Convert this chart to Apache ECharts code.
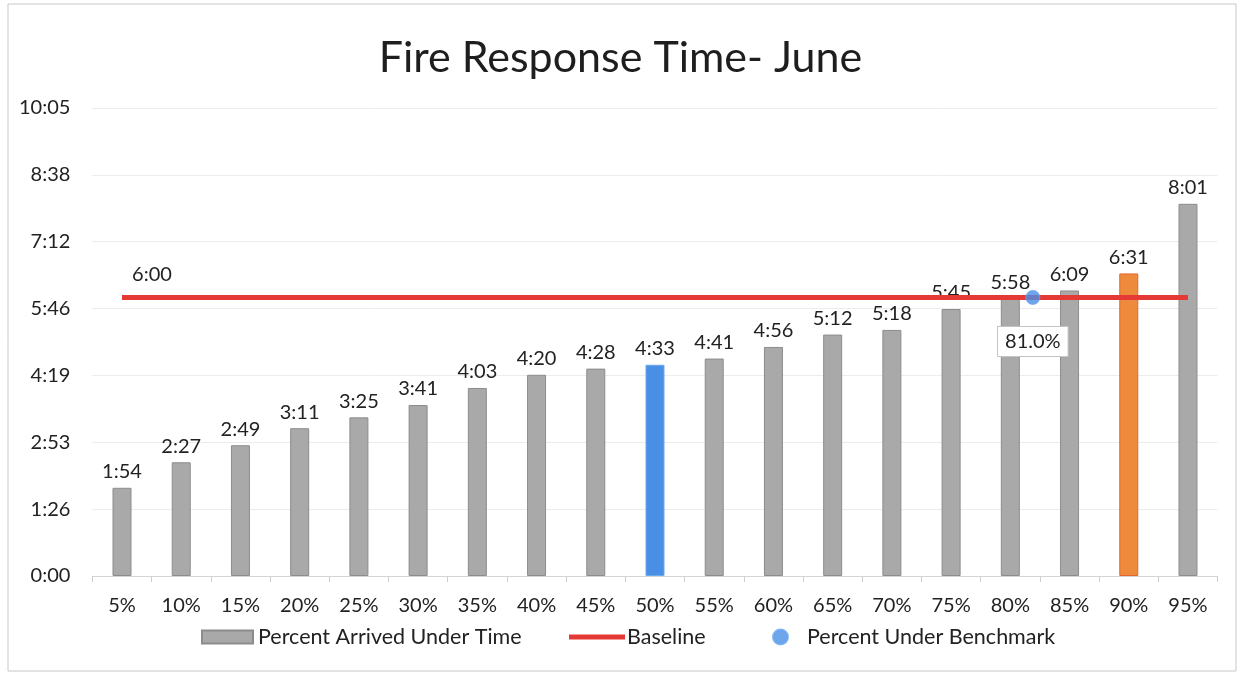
<!DOCTYPE html>
<html>
<head>
<meta charset="utf-8">
<script src="https://cdn.jsdelivr.net/npm/echarts@6/dist/echarts.min.js"></script>
<style>
html,body{margin:0;padding:0;background:#fff;}
#chart{width:1241px;height:675px;}
</style>
</head>
<body>
<div id="chart"></div>
<script>
// ---- data ----
const categories = ['5%','10%','15%','20%','25%','30%','35%','40%','45%','50%','55%','60%','65%','70%','75%','80%','85%','90%','95%'];
const arrivedTimes = ['1:54','2:27','2:49','3:11','3:25','3:41','4:03','4:20','4:28','4:33','4:41','4:56','5:12','5:18','5:45','5:58','6:09','6:31','8:01'];
const baselineTimes = ['6:00','6:00','6:00','6:00','6:00','6:00','6:00','6:00','6:00','6:00','6:00','6:00','6:00','6:00','6:00','6:00','6:00','6:00','6:00'];
const benchmarkPointX = 81.9;      // position of the point along the percent scale
const benchmarkPointTime = '6:00';
const benchmarkLabel = '81.0%';
const yTickLabels = ['0:00','1:26','2:53','4:19','5:46','7:12','8:38','10:05'];

// ---- helpers ----
function toSec(t){ const p = t.split(':'); return (+p[0])*60 + (+p[1]); }
function fmt(s){ s = Math.round(s); const m = Math.floor(s/60), r = s%60; return m + ':' + (r<10?'0':'') + r; }

const FONT = 'Lato';
const highlight = {9: {color:'#4a8fe6', borderColor:'#6aa8f0'}, 17: {color:'#ee8a3c', borderColor:'#e8652b'}};

const barData = arrivedTimes.map((t,i) => {
  const d = {value: toSec(t)};
  if (highlight[i]) d.itemStyle = {color: highlight[i].color, borderColor: highlight[i].borderColor, borderWidth: 1};
  return d;
});
const lineData = baselineTimes.map((t,i) => {
  const d = {value: toSec(t)};
  if (i === 0) d.label = {show:true, position:'top', distance:13, offset:[30,0], formatter: p => fmt(p.value),
                           fontFamily: FONT, fontSize: 20, color:'#222'};
  return d;
});

const legendText = {fontFamily:FONT, fontSize:21.5, color:'#222'};

const chart = echarts.init(document.getElementById('chart'), null, {renderer:'canvas'});
chart.setOption({
  animation: false,
  backgroundColor: '#fff',
  textStyle: {fontFamily: FONT},
  title: {
    text: 'Fire Response Time- June', left: 'center', top: 32,
    textStyle: {fontFamily: FONT, fontSize: 43, fontWeight: 'normal', color: '#1e1e1e'}
  },
  graphic: [{type:'rect', shape:{x:8, y:4, width:1228, height:667}, style:{fill:'none', stroke:'#c8c8c8', lineWidth:1}, silent:true, z:-1}],
  legend: [
    {data:[{name:'Percent Arrived Under Time', icon:'rect'}], left:196, top:621, itemWidth:51, itemHeight:13,
     textStyle:legendText},
    {data:[{name:'Baseline', icon:'rect'}], left:564, top:621, itemWidth:56, itemHeight:5,
     textStyle:Object.assign({}, legendText, {padding:[0,0,0,-3]})},
    {data:[{name:'Percent Under Benchmark', icon:'circle'}], left:767, top:621, itemWidth:15, itemHeight:15,
     textStyle:Object.assign({}, legendText, {padding:[0,0,0,14]})}
  ],
  grid: {left: 92.4, right: 23.4, top: 108, bottom: 99, containLabel: false},
  xAxis: [
    {type:'category', data: categories, boundaryGap: true,
     axisLine:{show:true, lineStyle:{color:'#d4d4d4', width:1}},
     axisTick:{show:true, length:6, lineStyle:{color:'#cfcfcf'}},
     axisLabel:{fontFamily:FONT, fontSize:20, color:'#222', margin:20},
     splitLine:{show:false}},
    {type:'value', min:2.5, max:97.5, show:false}
  ],
  yAxis: {
    type:'value', min:0, max:604.8, interval:86.4,
    axisLine:{show:false}, axisTick:{show:false},
    axisLabel:{fontFamily:FONT, fontSize:20, color:'#222', margin:22,
               formatter: (v, i) => yTickLabels[i] !== undefined ? yTickLabels[i] : fmt(v)},
    splitLine:{show:true, lineStyle:{color:'#ececec', width:1}}
  },
  series: [
    {name:'Percent Arrived Under Time', type:'bar', data: barData, barWidth: 19, xAxisIndex:0, z:2,
     itemStyle:{color:'#a9a9a9', borderColor:'#8c8c8c', borderWidth:1},
     label:{show:true, position:'top', distance:6, formatter: p => fmt(p.value),
            fontFamily:FONT, fontSize:20, color:'#222'}},
    {name:'Baseline', type:'line', data: lineData, xAxisIndex:0, z:3,
     symbol:'circle', symbolSize:0.01, showSymbol:true,
     lineStyle:{color:'#e53935', width:5}, itemStyle:{color:'#e53935'}},
    {name:'Percent Under Benchmark', type:'scatter', xAxisIndex:1, z:4,
     data:[[benchmarkPointX, toSec(benchmarkPointTime)]], symbolSize:14,
     itemStyle:{color:'#4a8fe6', borderColor:'#6aa8f0', borderWidth:1},
     labelLayout:{hideOverlap:false},
     label:{show:true, position:'bottom', distance:22, formatter: () => benchmarkLabel, opacity:1,
            fontFamily:FONT, fontSize:20, color:'#222', backgroundColor:'#fff',
            borderColor:'#c4c4c4', borderWidth:1, padding:[5,7,4,7]}}
  ]
});
</script>
</body>
</html>
